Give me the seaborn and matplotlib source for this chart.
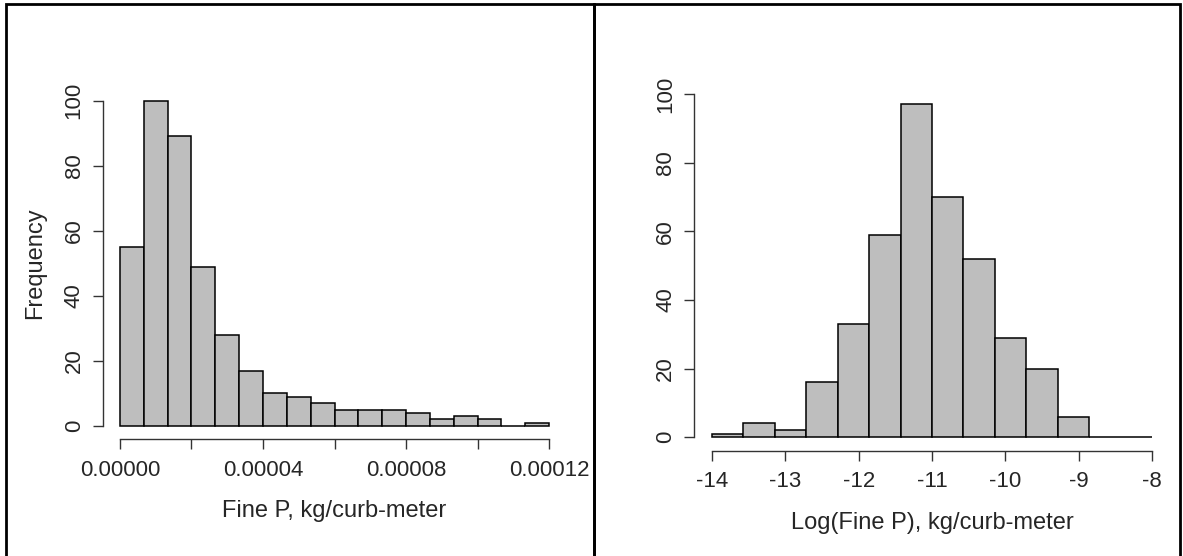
import numpy as np
import pandas as pd
import matplotlib
matplotlib.use("Agg")
import matplotlib.pyplot as plt
import seaborn as sns
from matplotlib.patches import Rectangle

# bin counts
fine_p_counts = [55, 100, 89, 49, 28, 17, 10, 9, 7, 5, 5, 5, 4, 2, 3, 2, 0, 1]
fine_p_range = (0.0, 0.00012)
log_counts = [1, 4, 2, 16, 33, 59, 97, 70, 52, 29, 20, 6, 0, 0]
log_range = (-14.0, -8.0)

fine_p_ticks = [0.0, 0.00002, 0.00004, 0.00006, 0.00008, 0.00010, 0.00012]
fine_p_ticklabels = ["0.00000", "", "0.00004", "", "0.00008", "", "0.00012"]
log_ticks = [-14, -13, -12, -11, -10, -9, -8]
log_ticklabels = ["-14", "-13", "-12", "-11", "-10", "-9", "-8"]
y_ticks = [0, 20, 40, 60, 80, 100]

sns.set_style("white")
plt.rcParams["font.family"] = ["Liberation Sans", "DejaVu Sans"]

W, H = 1183, 556
fig = plt.figure(figsize=(W / 100, H / 100), dpi=100)


def px_axes(left, top, right, bottom):
    return fig.add_axes([left / W, 1 - bottom / H, (right - left) / W, (bottom - top) / H])


def r_hist(ax, counts, rng, ticks, ticklabels, xlabel, ylabel):
    edges = np.linspace(rng[0], rng[1], len(counts) + 1)
    df = pd.DataFrame({"x": (edges[:-1] + edges[1:]) / 2, "n": counts})
    sns.histplot(data=df, x="x", weights="n", bins=list(edges), ax=ax,
                 color="#BEBEBE", edgecolor="black", linewidth=1.1, alpha=1.0)
    pad = (rng[1] - rng[0]) * 0.04
    ax.set_xlim(rng[0] - pad, rng[1] + pad)
    ymax = max(counts)
    ax.set_ylim(-0.04 * ymax, ymax * 1.04)
    ax.set_xticks(ticks)
    ax.set_xticklabels(ticklabels)
    ax.set_yticks(y_ticks)
    ax.set_yticklabels([str(t) for t in y_ticks], rotation=90, va="center")
    for side in ["top", "right"]:
        ax.spines[side].set_visible(False)
    ax.spines["bottom"].set_bounds(ticks[0], ticks[-1])
    ax.spines["left"].set_bounds(y_ticks[0], y_ticks[-1])
    for side in ["bottom", "left"]:
        ax.spines[side].set_color("#333333")
        ax.spines[side].set_linewidth(1.0)
    ax.tick_params(axis="both", length=7, width=1.0, color="#333333",
                   labelsize=16, direction="out")
    ax.tick_params(axis="x", bottom=True, pad=8)
    ax.tick_params(axis="y", left=True, pad=6)
    ax.set_xlabel(xlabel, fontsize=17, labelpad=14)
    ax.set_ylabel(ylabel, fontsize=17, labelpad=13)
    ax.grid(False)


ax1 = px_axes(102.8, 87.7, 566.2, 439.0)
r_hist(ax1, fine_p_counts, fine_p_range, fine_p_ticks, fine_p_ticklabels,
       "Fine P, kg/curb-meter", "Frequency")

ax2 = px_axes(694.4, 91.0, 1169.6, 450.5)
r_hist(ax2, log_counts, log_range, log_ticks, log_ticklabels,
       "Log(Fine P), kg/curb-meter", "")

# panel frames
for (l, r) in [(6, 594), (594, 1180)]:
    fig.patches.append(Rectangle((l / W, 1 - 560 / H), (r - l) / W, (560 - 4) / H,
                                 transform=fig.transFigure, fill=False,
                                 edgecolor="black", linewidth=2.0))

fig.savefig("out.png", dpi=100)
